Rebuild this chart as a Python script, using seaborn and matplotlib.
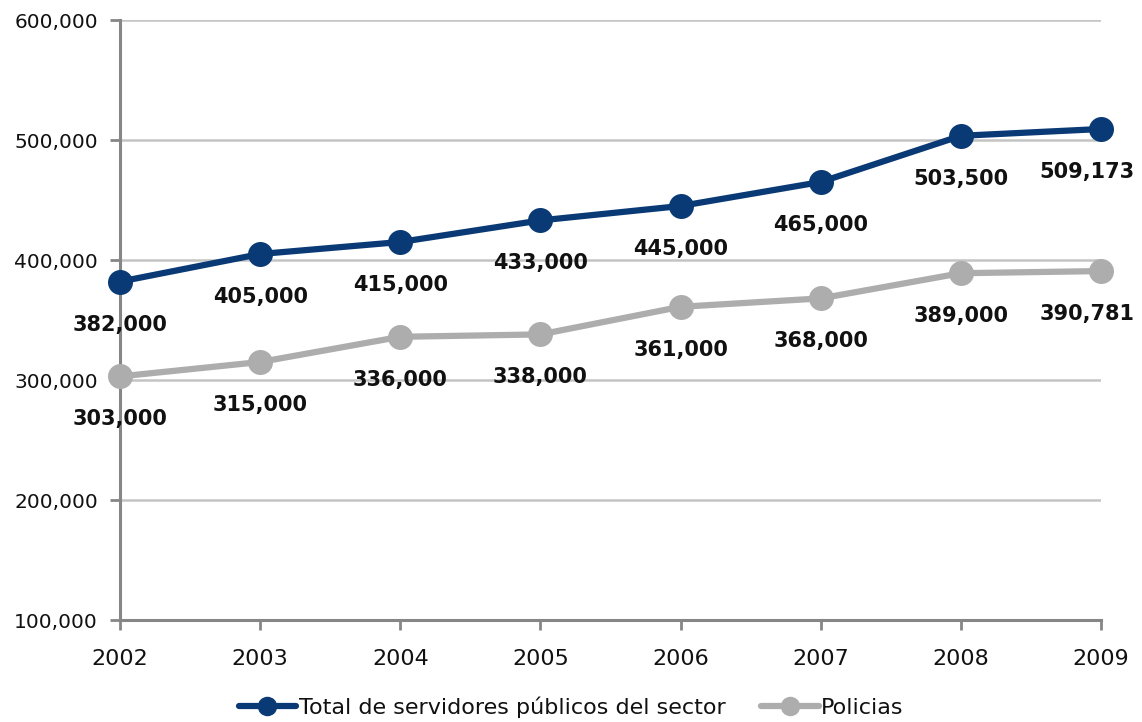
import matplotlib
matplotlib.use("Agg")
import matplotlib.pyplot as plt
import matplotlib.ticker as mticker
from matplotlib.lines import Line2D
import seaborn as sns
import pandas as pd

years = [2002, 2003, 2004, 2005, 2006, 2007, 2008, 2009]
total_servidores = [382000, 405000, 415000, 433000, 445000, 465000, 503500, 509173]
policias = [303000, 315000, 336000, 338000, 361000, 368000, 389000, 390781]
series_names = ["Total de servidores públicos del sector", "Policias"]
y_ticks = [100000, 200000, 300000, 400000, 500000, 600000]

navy = "#0A3A75"
grey = "#ADADAD"
axis_grey = "#868686"
grid_grey = "#C4C4C4"

sns.set_theme(style="white")
plt.rcParams['font.family'] = ['DejaVu Sans']

fig = plt.figure(figsize=(11.42, 7.22), dpi=100)
ax = fig.add_axes([120/1142, 102/722, (1101-120)/1142, 600/722])

df = pd.DataFrame({
    "year": years * 2,
    "value": total_servidores + policias,
    "serie": [series_names[0]] * len(years) + [series_names[1]] * len(years),
})

for name, color in zip(series_names, [navy, grey]):
    sub = df[df["serie"] == name]
    sns.lineplot(data=sub, x="year", y="value", ax=ax, color=color, linewidth=4.5,
                 marker="o", markersize=18, markeredgewidth=0, legend=False,
                 clip_on=False, zorder=3 if color == navy else 2)

ax.set_xlim(years[0], years[-1])
ax.set_ylim(y_ticks[0], y_ticks[-1])
ax.set_xticks(years)
ax.set_yticks(y_ticks)
ax.yaxis.set_major_formatter(mticker.FuncFormatter(lambda v, p: f"{int(v):,}"))
ax.set_xlabel("")
ax.set_ylabel("")

for s in ["top", "right"]:
    ax.spines[s].set_visible(False)
for s in ["left", "bottom"]:
    ax.spines[s].set_color(axis_grey)
    ax.spines[s].set_linewidth(2.2)
    ax.spines[s].set_zorder(1)

ax.grid(axis="y", color=grid_grey, linewidth=1.8, zorder=0)
ax.grid(axis="x", visible=False)
ax.tick_params(axis="both", which="major", direction="out", length=7, width=2,
               color=axis_grey, labelcolor="#111111", left=True, bottom=True)
ax.tick_params(axis="y", pad=9, labelsize=14.5)
ax.tick_params(axis="x", pad=14, labelsize=16)

def add_labels(vals):
    for i, (x, v) in enumerate(zip(years, vals)):
        dx = -14 if i == len(years) - 1 else 0
        ax.annotate(f"{v:,}", (x, v), xytext=(dx, -43), textcoords="offset pixels",
                    ha="center", va="center", fontsize=15, fontweight="bold",
                    color="#111111", annotation_clip=False, zorder=5)

add_labels(total_servidores)
add_labels(policias)

handles = [Line2D([0], [0], color=navy, linewidth=4.5, marker="o", markersize=13),
           Line2D([0], [0], color=grey, linewidth=4.5, marker="o", markersize=13)]
fig.legend(handles, series_names, loc="center", bbox_to_anchor=(0.5, 1 - 707/722),
           ncol=2, frameon=False, fontsize=16, handlelength=2.6, handletextpad=0.1,
           columnspacing=1.6, labelcolor="#111111")

fig.savefig("out.png", dpi=100)
